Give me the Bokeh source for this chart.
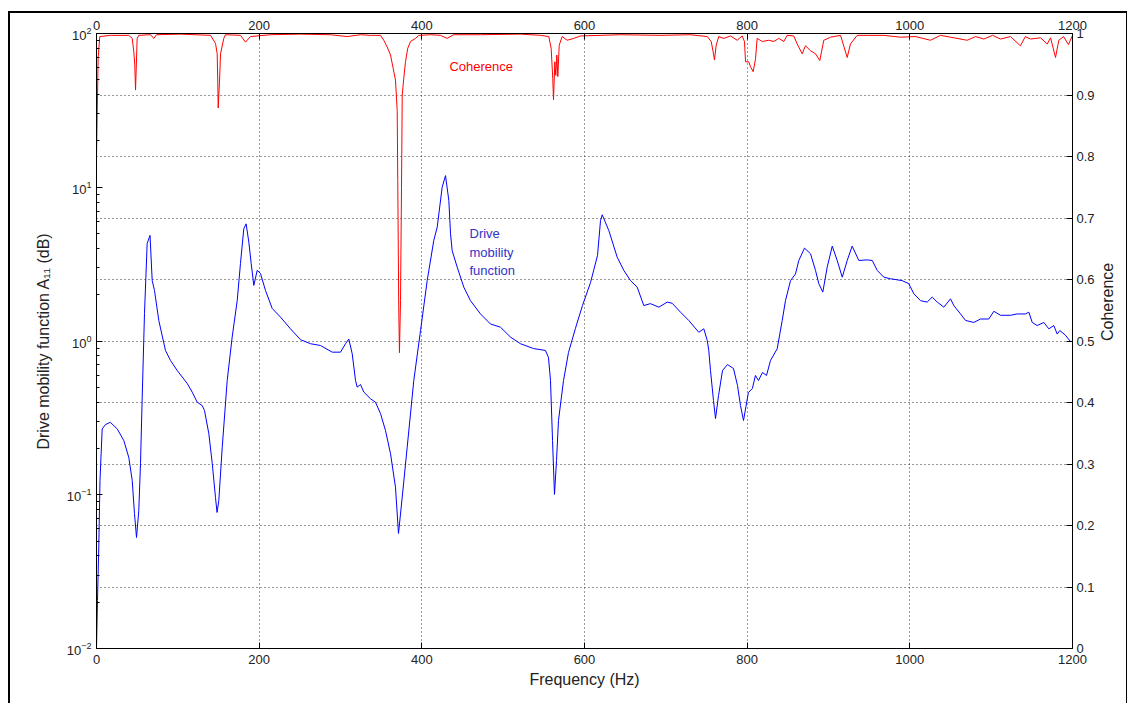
import math
from bokeh.plotting import figure
from bokeh.models import (Range1d, LinearAxis, LinearScale, Grid, FixedTicker,
                          CustomJSTickFormatter, Label)
from bokeh.embed import file_html
from bokeh.resources import INLINE

# ---------------- data ----------------
freq_mob = [0, 1.2, 2.8, 4.3, 7, 11, 17, 25.5, 33.6, 39.7,
            43.9, 46.7, 49.2, 52, 54.1, 56.2, 59, 62.3, 65.8, 68.5,
            71.3, 76.6, 84.8, 91, 99.2, 111.5, 117.7, 123.8, 130, 132.8,
            138.1, 142.3, 146.3, 148.2, 150.4, 154.6, 160.7, 166.8, 173, 177,
            181.1, 184, 187.3, 190.2, 193.4, 197.6, 201.6, 207.8, 216, 226.2,
            238.5, 250.8, 263.1, 275.4, 289.8, 300, 306.2, 310.2, 314.4, 318.5,
            320.5, 324.6, 328.7, 336.9, 343, 349.2, 355.3, 361.5, 367.6, 371.3,
            375.9, 382, 390.1, 398.4, 406.6, 414.7, 418.9, 425, 429.1, 433.2,
            435.3, 437.3, 443.5, 451.6, 459.8, 472.1, 484.4, 496.7, 509, 521.3,
            537.3, 552, 555.7, 558.2, 560.7, 563.1, 565.6, 568, 574.2, 580.3,
            588.9, 597.5, 607.4, 616, 619.7, 621.8, 629.9, 640.2, 648.3, 656.6,
            664.8, 672.9, 681.1, 691.4, 701.7, 707.8, 718, 728.2, 740.5, 746.7,
            750.9, 752.8, 754.9, 758.6, 761.1, 764.8, 769.7, 775.8, 783.2, 788.1,
            791.8, 795.5, 801.5, 806.4, 810.2, 813.9, 818.8, 823.8, 828.7, 836.9,
            843.1, 847.1, 853.3, 859.4, 863.5, 870.5, 877.9, 884, 888.1, 893,
            898.4, 904.6, 910.7, 916.9, 923, 929.1, 937.3, 947.6, 953.8, 959.9,
            968, 976.2, 990.6, 998.7, 1004.9, 1013.1, 1021.3, 1027.5, 1033.7, 1041.8,
            1050, 1054.1, 1062.3, 1068.5, 1078.7, 1086.9, 1097.1, 1103.3, 1111.5, 1123.8,
            1132, 1142.2, 1146.3, 1150.5, 1156.6, 1164.7, 1170.9, 1177, 1181.2, 1184.4,
            1191.4, 1197.6]
mobility = [0.01, 0.0205, 0.0456, 0.124, 0.268, 0.286, 0.296, 0.268, 0.225, 0.175,
            0.124, 0.0755, 0.0527, 0.079, 0.160, 0.431, 1.51, 4.31, 4.86, 2.47,
            2.13, 1.36, 0.867, 0.747, 0.643, 0.530, 0.465, 0.400, 0.380, 0.353,
            0.250, 0.160, 0.096, 0.0767, 0.0918, 0.204, 0.553, 1.06, 1.83, 3.19,
            5.37, 5.78, 4.39, 3.19, 2.30, 2.88, 2.75, 2.13, 1.63, 1.43,
            1.20, 1.02, 0.96, 0.935, 0.846, 0.846, 0.96, 1.03, 0.826, 0.553,
            0.501, 0.521, 0.465, 0.421, 0.400, 0.337, 0.262, 0.185, 0.112, 0.056,
            0.0964, 0.204, 0.553, 1.17, 2.47, 4.51, 5.50, 10.0, 11.9, 8.2,
            4.98, 3.87, 3.02, 2.24, 1.83, 1.50, 1.29, 1.23, 1.06, 0.96,
            0.893, 0.868, 0.781, 0.553, 0.225, 0.1005, 0.167, 0.304, 0.553, 0.841,
            1.21, 1.70, 2.40, 3.60, 6.08, 6.62, 5.23, 3.51, 2.88, 2.47,
            2.24, 1.70, 1.75, 1.66, 1.79, 1.76, 1.54, 1.36, 1.14, 1.20,
            1.01, 0.868, 0.643, 0.410, 0.313, 0.442, 0.643, 0.703, 0.662, 0.514,
            0.380, 0.304, 0.462, 0.491, 0.597, 0.553, 0.624, 0.597, 0.747, 0.890,
            1.36, 1.83, 2.47, 2.73, 3.34, 4.02, 3.69, 2.88, 2.36, 2.08,
            3.02, 4.14, 3.34, 2.60, 3.34, 4.14, 3.34, 3.37, 3.34, 2.88,
            2.60, 2.54, 2.47, 2.36, 2.03, 1.83, 1.79, 1.93, 1.79, 1.66,
            1.88, 1.70, 1.50, 1.36, 1.32, 1.39, 1.39, 1.56, 1.47, 1.47,
            1.50, 1.50, 1.54, 1.32, 1.26, 1.32, 1.20, 1.26, 1.11, 1.17,
            1.09, 0.99]

freq_coh = [0, 2, 4, 17, 39.7, 43.9, 45.9, 47.1, 48, 50,
            52, 66.4, 70.5, 73.8, 103, 140.2, 146.3, 148.4, 149.1, 149.6,
            151.2, 152.5, 156.5, 158.6, 177, 183.2, 189.3, 214, 250.8, 287.7,
            308.2, 324.6, 336.9, 349.2, 353.2, 357.4, 361.5, 364.8, 367.6, 369.7,
            370.4, 371.6, 372.5, 373.8, 375, 375.9, 377.8, 379.9, 382.7, 386.1,
            392.2, 396.3, 410.7, 423, 431.2, 439, 472, 521, 546, 556.1,
            559, 561, 561.9, 563.5, 564.7, 566, 567.2, 568.9, 572.6, 578.7,
            586.8, 595, 644, 693, 730, 750.9, 755.8, 758.2, 759.8, 761.9,
            765.1, 771.3, 779.5, 787.7, 793.9, 796.7, 798, 802, 804.1, 807.4,
            810.3, 812.3, 818.5, 826.6, 832.7, 838.9, 845, 849.2, 857.3, 861.5,
            867.7, 871.7, 877.9, 884, 889.3, 894.2, 902.5, 914.8, 923, 927,
            935.3, 947.6, 968, 988.5, 1007, 1025.4, 1037.7, 1050, 1070.5, 1080.8,
            1091, 1101.7, 1111.5, 1123.8, 1136, 1142, 1148.4, 1160.7, 1168.9, 1173,
            1179.1, 1183.2, 1189, 1195, 1200]
coherence = [0.80, 0.96, 0.995, 0.997, 0.997, 0.992, 0.970, 0.948, 0.908, 0.992,
             0.997, 0.998, 0.992, 0.998, 0.999, 0.997, 0.984, 0.967, 0.921, 0.879,
             0.921, 0.967, 0.992, 0.998, 0.997, 0.986, 0.995, 0.998, 0.999, 0.998,
             0.995, 0.998, 0.997, 0.997, 0.989, 0.978, 0.965, 0.943, 0.924, 0.875,
             0.761, 0.555, 0.481, 0.566, 0.750, 0.900, 0.927, 0.954, 0.976, 0.987,
             0.992, 0.997, 0.998, 0.997, 0.992, 0.998, 0.998, 0.999, 0.997, 0.995,
             0.976, 0.927, 0.892, 0.954, 0.932, 0.965, 0.930, 0.981, 0.995, 0.989,
             0.992, 0.996, 0.998, 0.997, 0.998, 0.995, 0.987, 0.970, 0.957, 0.981,
             0.995, 0.992, 0.996, 0.989, 0.996, 0.987, 0.954, 0.954, 0.946, 0.938,
             0.959, 0.992, 0.987, 0.989, 0.987, 0.992, 0.987, 0.997, 0.996, 0.983,
             0.967, 0.980, 0.972, 0.967, 0.956, 0.989, 0.994, 0.997, 0.961, 0.983,
             0.997, 0.997, 0.997, 0.994, 0.995, 0.989, 0.997, 0.994, 0.989, 0.995,
             0.991, 0.997, 0.991, 0.995, 0.980, 0.995, 0.991, 0.993, 0.983, 0.993,
             0.961, 0.989, 0.995, 0.982, 0.997]

x_ticks = [0, 200, 400, 600, 800, 1000, 1200]
coh_ticks = [0, 0.1, 0.2, 0.3, 0.4, 0.5, 0.6, 0.7, 0.8, 0.9, 1.0]

FONT = "Liberation Sans"
TXT = "#222222"

# ---------------- figure ----------------
p = figure(width=1119, height=692,
           x_range=Range1d(0, 1200), y_range=Range1d(0.01, 100),
           y_axis_type="log", output_backend="svg", toolbar_location=None,
           min_border_left=88, min_border_right=55,
           min_border_top=22, min_border_bottom=55)
p.extra_y_ranges = {"coh": Range1d(0, 1)}
p.extra_y_scales = {"coh": LinearScale()}
p.outline_line_color = "black"
p.outline_line_width = 1
p.background_fill_color = "white"
p.border_fill_color = None
p.styles = {"margin-left": "8px", "margin-top": "11px",
            "box-shadow": "inset 2px 2px 0 0 #000000, inset -1px 0 0 0 #000000"}


def style_axis(ax, minor=False):
    ax.axis_line_color = "black"
    ax.major_tick_line_color = "black"
    ax.major_tick_in = 6
    ax.major_tick_out = 0
    if minor:
        ax.minor_tick_line_color = "black"
        ax.minor_tick_in = 3
        ax.minor_tick_out = 0
    else:
        ax.minor_tick_line_color = None
    ax.major_label_text_font = FONT
    ax.major_label_text_font_size = "13px"
    ax.major_label_text_color = TXT
    ax.axis_label_text_font = FONT
    ax.axis_label_text_font_size = "16px"
    ax.axis_label_text_font_style = "normal"
    ax.axis_label_text_color = TXT


# bottom axis
xb = p.xaxis[0]
xb.ticker = FixedTicker(ticks=x_ticks)
xb.axis_label = "Frequency (Hz)"
style_axis(xb)
xb.major_label_standoff = 6
xb.axis_label_standoff = 4

# left log axis
yl = p.yaxis[0]
yl.axis_label = "Drive mobility function A\u2081\u2081 (dB)"
style_axis(yl, minor=True)
yl.major_label_standoff = 5
yl.axis_label_standoff = 12

# top axis
xt = LinearAxis(ticker=FixedTicker(ticks=x_ticks))
style_axis(xt)
xt.major_label_standoff = 4
p.add_layout(xt, "above")

# right coherence axis
yr = LinearAxis(y_range_name="coh", ticker=FixedTicker(ticks=coh_ticks),
                axis_label="Coherence",
                formatter=CustomJSTickFormatter(
                    code="return String(Number(tick.toFixed(1)));"))
style_axis(yr)
yr.major_label_standoff = 4
yr.axis_label_standoff = 10
yr.axis_label_orientation = math.pi / 2
yr.axis_label_text_align = "center"
yr.axis_label_text_baseline = "middle"
p.add_layout(yr, "right")

# grids: vertical at frequency ticks, horizontal at coherence ticks
p.xgrid.ticker = FixedTicker(ticks=x_ticks[1:-1])
p.xgrid.grid_line_color = "#333333"
p.xgrid.grid_line_dash = "1 3"
p.xgrid.grid_line_width = 1
p.ygrid.visible = False
hgrid = Grid(dimension=1, y_range_name="coh",
             ticker=FixedTicker(ticks=coh_ticks[1:-1]),
             grid_line_color="#333333", grid_line_dash="1 3", grid_line_width=1)
p.add_layout(hgrid)

# ---------------- series ----------------
p.line(freq_mob, mobility, line_color="#0000ff", line_width=1)
p.line(freq_coh, coherence, y_range_name="coh", line_color="#ff0000", line_width=1)

# ---------------- annotations ----------------
p.add_layout(Label(x=473, y=0.946, y_range_name="coh", text="Coherence",
                   text_align="center", text_baseline="middle",
                   text_color="#ff0000", text_font=FONT, text_font_size="13px"))
for txt, yv in [("Drive", 5.0), ("mobility", 3.76), ("function", 2.87)]:
    p.add_layout(Label(x=458.6, y=yv, text=txt, text_align="left",
                       text_baseline="middle", text_color="#3333c8",
                       text_font=FONT, text_font_size="13px"))

open("out.html", "w").write(file_html(p, INLINE))
